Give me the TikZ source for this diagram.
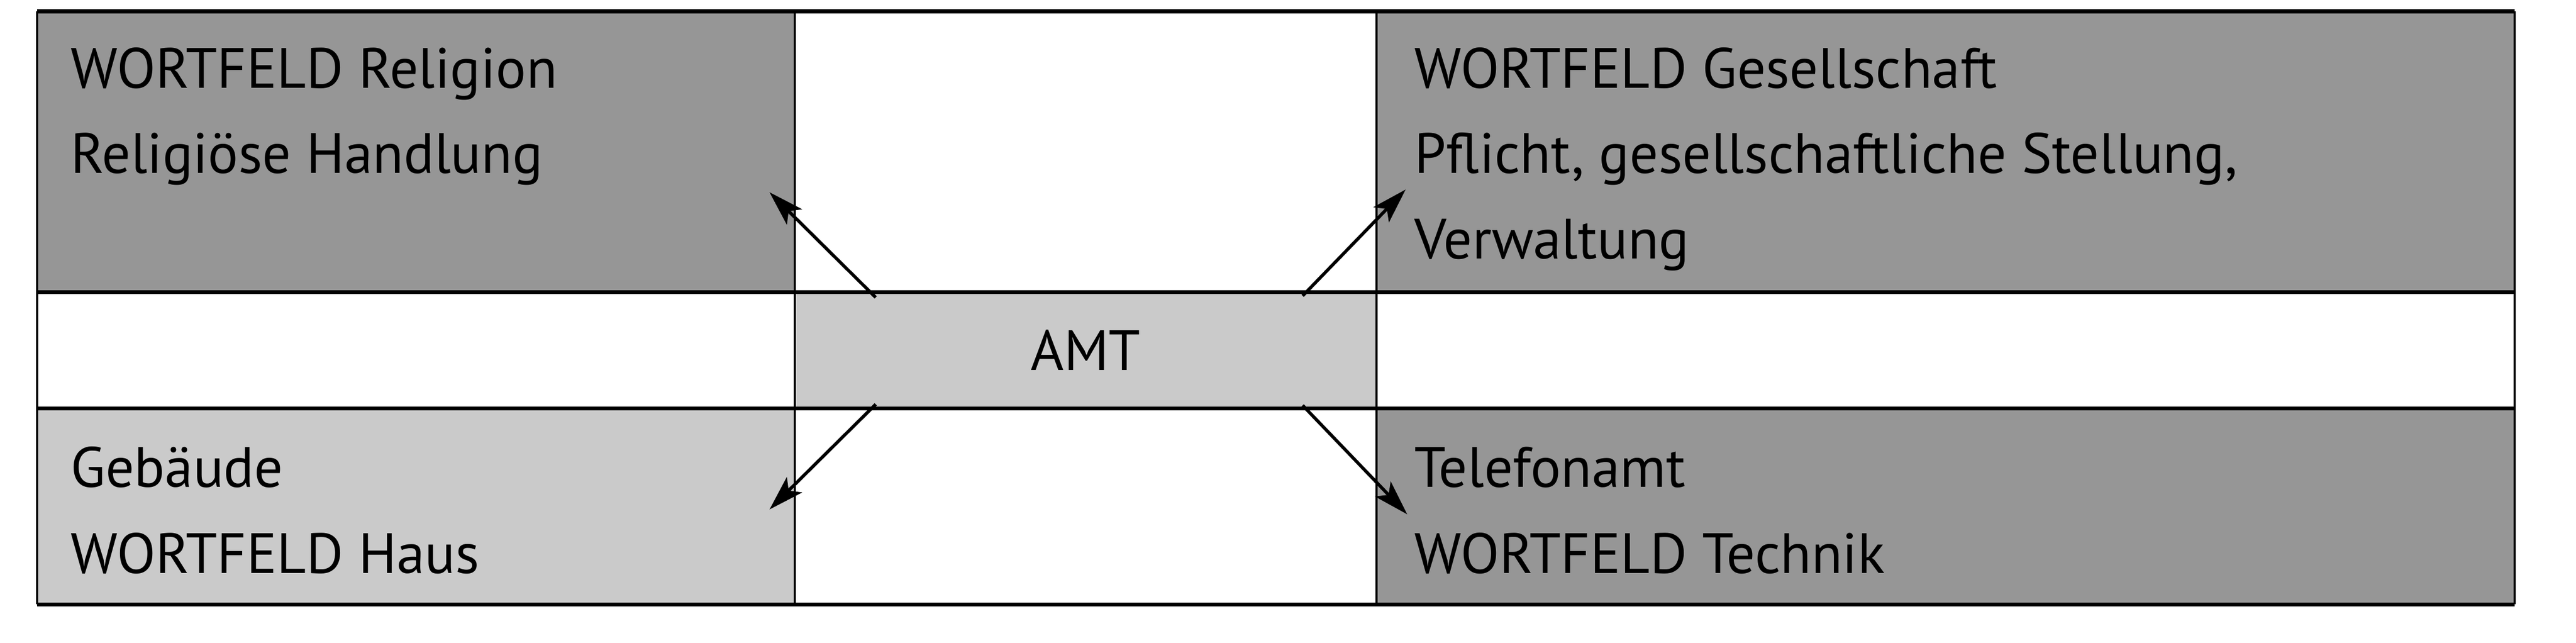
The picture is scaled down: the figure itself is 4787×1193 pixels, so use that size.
\documentclass[tikz,border=0pt]{standalone}
\usepackage{fontspec}
\setmainfont{PT Sans}
\usetikzlibrary{arrows.meta,calc}

\definecolor{fielddark}{RGB}{150,150,150}
\definecolor{fieldlight}{RGB}{202,202,202}

\tikzset{
    word/.style={anchor=base west, inner sep=0pt, font=\fontsize{30}{36}\selectfont},
    hrule/.style={line width=2pt},
    vrule/.style={line width=1.2pt},
    pointer/.style={line width=1.7pt, -{Stealth[length=6.5mm, width=4mm, inset=1.5mm]}},
}

\begin{document}
\begin{tikzpicture}[x=0.1mm, y=-0.1mm]
            \useasboundingbox (0, 0) rectangle (4787, 1193);

            % grid corners
            \coordinate (TL) at (69, 21);
            \coordinate (BR) at (4673, 1122);

            % fields
            \fill[fielddark] (69, 21) rectangle (1477, 542);
            \fill[fielddark] (2558, 21) rectangle (4673, 542);
            \fill[fieldlight] (69, 758) rectangle (1477, 1122);
            \fill[fielddark] (2558, 758) rectangle (4673, 1122);

            \node[fill=fieldlight, inner sep=0pt, minimum width=108.1mm, minimum height=21.6mm,
                  font=\fontsize{30}{36}\selectfont] (amt) at (2017.5, 650) {AMT};

            % lines
            \draw[vrule] (TL) -- (69, 1122);
            \draw[vrule] (1477, 21) -- (1477, 1122);
            \draw[vrule] (2558, 21) -- (2558, 1122);
            \draw[vrule] (4673, 21) -- (BR);
            \draw[hrule] (TL) -- (4673, 21);
            \draw[hrule] (69, 542) -- (4673, 542);
            \draw[hrule] (69, 758) -- (4673, 758);
            \draw[hrule] (69, 1122) -- (BR);

            % texts
            \node[word] (rel1) at (131, 163) {WORTFELD Religion};
            \node[word] (rel2) at (131, 321) {Religiöse Handlung};
            \node[word] (ges1) at (2628, 163) {WORTFELD Gesellschaft};
            \node[word] (ges2) at (2628, 321) {Pflicht, gesellschaftliche Stellung,};
            \node[word] (ges3) at (2628, 480) {Verwaltung};
            \node[word] (geb1) at (131, 904) {Gebäude};
            \node[word] (geb2) at (131, 1064) {WORTFELD Haus};
            \node[word] (tel1) at (2628, 904) {Telefonamt};
            \node[word] (tel2) at (2628, 1064) {WORTFELD Technik};

            % arrows
            \coordinate (t1) at (1430, 357);
            \coordinate (t2) at (2612, 352);
            \coordinate (t3) at (1430, 946);
            \coordinate (t4) at (2615, 955);

            \draw[pointer] ($(amt.north west) + (151, 11)$) -- (t1);
            \draw[pointer] ($(amt.north east) + (-138, 8)$) -- (t2);
            \draw[pointer] ($(amt.south west) + (151, -8)$) -- (t3);
            \draw[pointer] ($(amt.south east) + (-138, -6)$) -- (t4);

        \end{tikzpicture}
\end{document}
